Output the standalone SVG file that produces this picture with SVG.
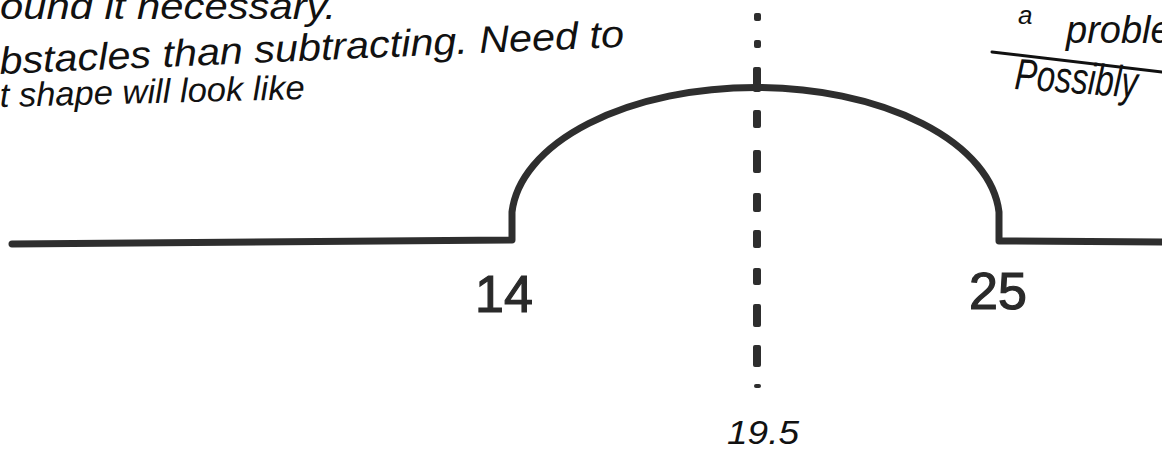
<svg xmlns="http://www.w3.org/2000/svg" width="1162" height="451" viewBox="0 0 1162 451">
<style>
.shape{fill:none;stroke:#2e2e2e;stroke-width:7;stroke-linecap:round;stroke-linejoin:round}
.dash{fill:#2e2e2e}
.num{font-family:"Liberation Sans",Arial,sans-serif;font-size:52px;fill:#2a2a2a;stroke:#2a2a2a;stroke-width:1.2}
.hand{font-family:"Liberation Sans",Arial,sans-serif;font-style:italic;font-size:34px;fill:#111}
</style>
<rect width="1162" height="451" fill="#fff"/>
<g id="profile">
<path class="shape" d="M12,244 L512,240 L512,212 A244,133 0 0 1 999,212 L999,241 L1162,242"/>
</g>
<g id="connectors">
<g id="centerline" class="dash">
<rect x="754" y="13" width="7" height="8" rx="2"/>
<rect x="754" y="40" width="7" height="8" rx="2"/>
<rect x="753" y="67" width="8" height="25" rx="2"/>
<rect x="753" y="110" width="8" height="18" rx="2"/>
<rect x="753" y="150" width="8" height="23" rx="2"/>
<rect x="753" y="193" width="8" height="19" rx="2"/>
<rect x="753" y="230" width="8" height="18" rx="2"/>
<rect x="753" y="268" width="8" height="17" rx="2"/>
<rect x="753" y="304" width="8" height="23" rx="2"/>
<rect x="753" y="345" width="8" height="22" rx="2"/>
<rect x="754" y="384" width="7" height="4" rx="2"/>
</g>
<line x1="992" y1="52" x2="1162" y2="72" stroke="#111" stroke-width="3" stroke-linecap="round"/>
</g>
<g id="label-14"><text class="num" x="504" y="312" text-anchor="middle">14</text></g>
<g id="label-25"><text class="num" x="998" y="309" text-anchor="middle">25</text></g>
<g id="label-19-5"><text class="hand" x="727" y="444" font-size="46" textLength="72" lengthAdjust="spacingAndGlyphs">19.5</text></g>
<g id="note-left" class="hand">
<text x="0" y="19" font-size="36" textLength="336" lengthAdjust="spacingAndGlyphs">ound it necessary.</text>
<text x="0" y="74" font-size="38" textLength="625" lengthAdjust="spacingAndGlyphs" transform="rotate(-2.5 0 74)">bstacles than subtracting. Need to</text>
<text x="0" y="107" font-size="34" textLength="305" lengthAdjust="spacingAndGlyphs" transform="rotate(-1.5 0 107)">t shape will look like</text>
</g>
<g id="note-right" class="hand">
<text x="1018" y="24" font-size="26">a</text>
<text x="1066" y="43" font-size="38">proble</text>
<text x="1014" y="89" font-size="44" textLength="123" lengthAdjust="spacingAndGlyphs" transform="rotate(4 1014 89)">Possibly</text>
</g>
</svg>
